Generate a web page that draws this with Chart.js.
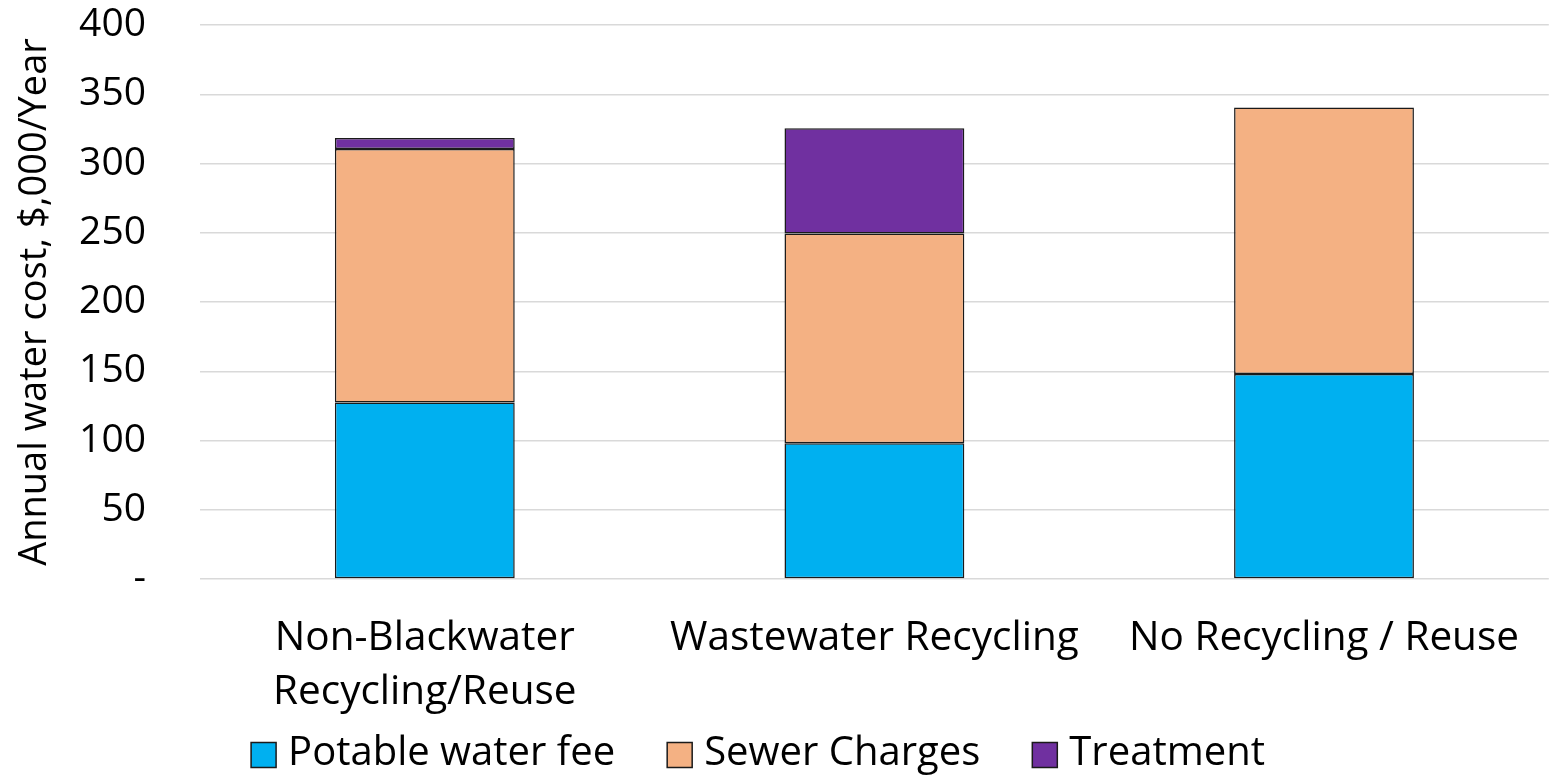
<!DOCTYPE html>
<html>
<head>
<meta charset="utf-8">
<script src="https://cdn.jsdelivr.net/npm/chart.js@4/dist/chart.umd.min.js"></script>
<style>
  html, body { margin: 0; padding: 0; background: #ffffff; }
  #wrap { width: 1552px; height: 776px; position: relative; }
</style>
</head>
<body>
<div id="wrap"><canvas id="chart"></canvas></div>
<script>
// Annual water cost by scenario ($,000 per year)
const categories = [['Non-Blackwater', 'Recycling/Reuse'], 'Wastewater Recycling', 'No Recycling / Reuse'];
const potableWaterFee = [127.5, 98, 148];
const sewerCharges = [183, 151.5, 192.5];
const treatment = [8, 76, 0];
const yTicks = [0, 50, 100, 150, 200, 250, 300, 350, 400];

const FONT = "'Open Sans', 'DejaVu Sans', sans-serif";

// Legend row under the category labels: square swatch + series name, centred.
const bottomLegend = {
  id: 'bottomLegend',
  afterDraw(chart) {
    const ctx = chart.ctx;
    const size = 40, box = 25, gap = 12, spacing = 52;
    const y = chart.height - 21;
    ctx.save();
    ctx.font = `${size}px ${FONT}`;
    ctx.textBaseline = 'middle';
    const items = chart.data.datasets.map(ds => ({
      text: ds.label, fill: ds.backgroundColor, w: box + gap + ctx.measureText(ds.label).width
    }));
    const total = items.reduce((s, it) => s + it.w, 0) + spacing * (items.length - 1);
    let x = chart.width / 2 - 18 - total / 2;
    items.forEach(it => {
      ctx.fillStyle = it.fill;
      ctx.fillRect(x, y - box / 2, box, box);
      ctx.lineWidth = 1.5;
      ctx.strokeStyle = '#1a1a1a';
      ctx.strokeRect(x, y - box / 2, box, box);
      ctx.fillStyle = '#000000';
      ctx.fillText(it.text, x + box + gap, y - 1);
      x += it.w + spacing;
    });
    ctx.restore();
  }
};

new Chart(document.getElementById('chart'), {
  type: 'bar',
  data: {
    labels: categories,
    datasets: [
      { label: 'Potable water fee', data: potableWaterFee, backgroundColor: '#00b0f0', borderColor: '#1a1a1a', borderWidth: 1.5, borderSkipped: false },
      { label: 'Sewer Charges', data: sewerCharges, backgroundColor: '#f4b183', borderColor: '#1a1a1a', borderWidth: 1.5, borderSkipped: false },
      { label: 'Treatment', data: treatment, backgroundColor: '#7030a0', borderColor: '#1a1a1a', borderWidth: 1.5, borderSkipped: false }
    ]
  },
  plugins: [bottomLegend],
  options: {
    responsive: true,
    maintainAspectRatio: false,
    animation: false,
    layout: { padding: { top: 25, right: 0, bottom: 60, left: 0 } },
    datasets: { bar: { barPercentage: 0.4, categoryPercentage: 1.0 } },
    plugins: {
      tooltip: { enabled: false },
      legend: { display: false }
    },
    scales: {
      x: {
        stacked: true,
        afterFit: (axis) => { axis.height = 137; },
        grid: { display: false, drawTicks: false },
        border: { display: false },
        ticks: {
          font: { family: FONT, size: 40.5, lineHeight: 1.32 },
          color: '#000000',
          padding: 33,
          maxRotation: 0,
          autoSkip: false
        }
      },
      y: {
        stacked: true,
        min: 0,
        max: 400,
        afterBuildTicks: (axis) => { axis.ticks = yTicks.map(v => ({ value: v })); },
        afterFit: (axis) => { axis.width = 200; axis.paddingTop = 0; axis.paddingBottom = 0; },
        grid: { color: '#d9d9d9', lineWidth: 1.5, drawTicks: false },
        border: { display: false },
        ticks: {
          font: { family: FONT, size: 39 },
          color: '#000000',
          padding: 54,
          callback: (v) => (v === 0 ? '-' : v)
        },
        title: {
          display: true,
          text: 'Annual water cost, $,000/Year',
          font: { family: FONT, size: 38 },
          color: '#000000',
          padding: { top: 12, bottom: 0 }
        }
      }
    }
  }
});
</script>
</body>
</html>
